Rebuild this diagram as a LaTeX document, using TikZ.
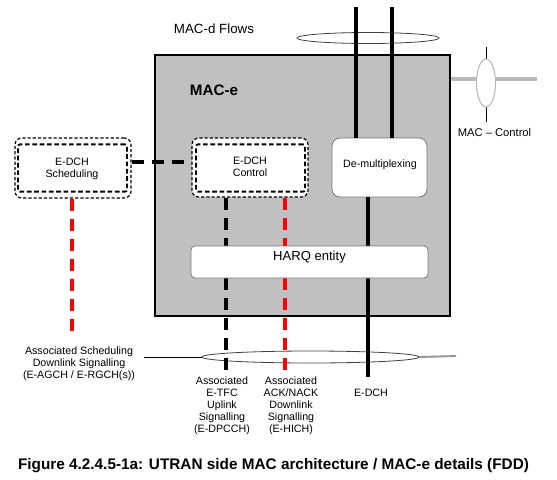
\documentclass[tikz,border=0pt]{standalone}
\usepackage{fontspec}
\setmainfont{Liberation Sans}
\usetikzlibrary{shapes.geometric}
\definecolor{macgray}{RGB}{192,192,192}
\definecolor{ctlgray}{RGB}{185,185,185}
\definecolor{boxedge}{RGB}{120,120,120}
\begin{document}
\begin{tikzpicture}[x=0.75pt,y=-0.75pt,
  small/.style={font=\fontsize{8}{9}\selectfont, align=center, inner sep=0pt},
  outerbox/.style={draw=black, line width=0.9pt, dash pattern=on 2.4pt off 1.5pt, rounded corners=5pt, fill=white, inner sep=0pt},
  innerbox/.style={draw=black, line width=1.4pt, dash pattern=on 3.5pt off 2pt, rounded corners=1.5pt, inner sep=0pt, align=center, font=\fontsize{8}{9}\selectfont},
  whitebox/.style={draw=boxedge, line width=0.6pt, fill=white, inner sep=0pt, align=center},
  thickline/.style={line width=2.6pt},
  sigdash/.style={line width=2.4pt, dash pattern=on 9pt off 6pt},
  lens/.style={ellipse, draw=black!75, line width=0.6pt, fill=white, inner sep=0pt}
]
\useasboundingbox (0,0) rectangle (557,479);

% MAC-e container
\node[draw=black, line width=0.8pt, fill=macgray, minimum width=221.25pt, minimum height=195.75pt, inner sep=0pt] (mace) at (302.5,185.5) {};
\node[font=\bfseries\fontsize{11.4}{13}\selectfont, inner sep=0pt] (macelbl) at (214,90) {MAC-e};

% top label and ellipse
\node[font=\fontsize{10}{12}\selectfont, inner sep=0pt] (macd) at (214,29) {MAC-d Flows};
\node[lens, minimum width=106.5pt, minimum height=8.25pt] (topell) at (368,38) {};

% MAC control
\coordinate (mcend) at (537,79);
\coordinate (mctop) at (486,47);
\coordinate (mcbot) at (486,122);
\draw[ctlgray, line width=3pt] (mcend -| mace.east) -- (mcend);
\draw[black, line width=0.6pt] (mctop) -- (mcbot);
\node[ellipse, draw=ctlgray, line width=0.8pt, fill=white, minimum width=14.25pt, minimum height=36pt, inner sep=0pt] (mcell) at (486,83) {};
\node[small, font=\fontsize{8.4}{10}\selectfont] (mclbl) at (494.5,132) {MAC -- Control};

% boxes
\node[whitebox, rounded corners=6pt, minimum width=71.25pt, minimum height=44.25pt, font=\fontsize{8}{9}\selectfont] (demux) at (379.5,167.5) {};
\node[small] (demuxlbl) at (380,165) {De-multiplexing};

\node[outerbox, minimum width=87pt, minimum height=44.25pt] (ctrlo) at (250,167.5) {};
\node[innerbox, minimum width=81.75pt, minimum height=35.5pt] (ctrli) at (250.5,168) {};
\node[small] (ctrllbl) at (250,167) {E-DCH\\Control};

\node[outerbox, minimum width=87pt, minimum height=45pt] (schedo) at (73,168) {};
\node[innerbox, minimum width=81.75pt, minimum height=35.5pt] (schedi) at (72.5,168) {};
\node[small] (schedlbl) at (72,169) {E-DCH\\Scheduling};

% flow lines into demux
\coordinate (f1) at (356,7);
\coordinate (f2) at (392,7);
\draw[thickline] (f1) -- (f1 |- demux.north);
\draw[thickline] (f2) -- (f2 |- demux.north);

% bottom lens and line
\node[lens, minimum width=162.75pt, minimum height=9pt] (botell) at (310.5,357) {};
\coordinate (bl) at (144,357);
\coordinate (br) at (456,356);
\draw[black, line width=0.6pt] (bl) -- (botell.west);
\draw[ctlgray!80!black, line width=1.4pt] (botell.east) -- (br);

% E-DCH line
\coordinate (edch) at (368,377);
\draw[thickline] (edch |- demux.south) -- (edch);

% signalling lines
\coordinate (dc) at (0,162);
\draw[sigdash] (schedo.east |- dc) -- (ctrlo.west |- dc);
\coordinate (rs) at (72,333);
\draw[sigdash, red] (rs |- schedo.south) -- (rs);
\coordinate (bk) at (226,375);
\draw[sigdash] (bk |- ctrlo.south) -- (bk);
\coordinate (rd) at (285,375);
\draw[sigdash, red] (rd |- ctrlo.south) -- (rd);

% HARQ on top
\node[whitebox, rounded corners=3pt, minimum width=177.75pt, minimum height=24pt] (harq) at (309.5,262) {};
\node[inner sep=0pt, font=\fontsize{9.8}{11}\selectfont] (harqlbl) at (309.5,257) {HARQ entity};

% bottom labels
\node[small] (l1) at (79,363.5) {Associated Scheduling\\Downlink Signalling\\(E-AGCH / E-RGCH(s))};
\node[small] (l2) at (222,406) {Associated\\E-TFC\\Uplink\\Signalling\\(E-DPCCH)};
\node[small] (l3) at (291,406) {Associated\\ACK/NACK\\Downlink\\Signalling\\(E-HICH)};
\node[small] (l4) at (371,393) {E-DCH};

% caption
\node[font=\bfseries\fontsize{11.5}{13}\selectfont, inner sep=0pt] (cap) at (273.5,466) {Figure 4.2.4.5-1a: UTRAN side MAC architecture / MAC-e details (FDD)};
\end{tikzpicture}
\end{document}
